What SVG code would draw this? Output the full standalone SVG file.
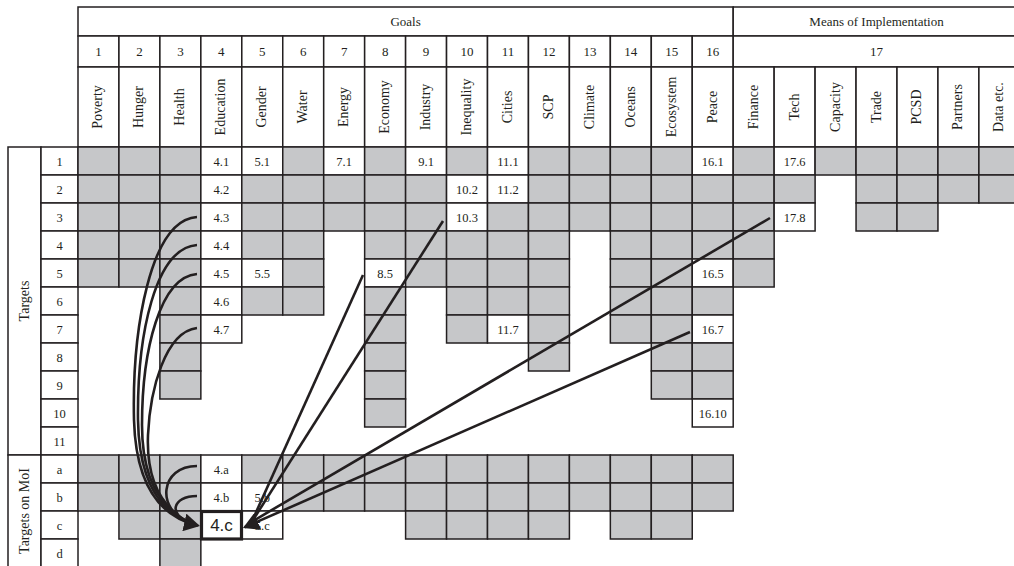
<svg xmlns="http://www.w3.org/2000/svg" width="1014" height="566" viewBox="0 0 1014 566">
<style>
.w{fill:#fff;stroke:#231f20;stroke-width:1.5}
.g{fill:#c6c7c9;stroke:#231f20;stroke-width:1.5}
text{font-family:"Liberation Serif","Times New Roman",serif;fill:#231f20;text-anchor:middle}
.h{font-size:13px}
.n{font-size:13px}
.v{font-size:14px}
.c{font-size:12.5px}
.con{fill:none;stroke:#231f20;stroke-width:2.6}
</style>
<defs>
<rect id="gc" width="40.95" height="28" class="g"/>
<rect id="wc" width="40.95" height="28" class="w"/>
<rect id="lc" width="37" height="28" class="w"/>
<marker id="ah" markerUnits="userSpaceOnUse" viewBox="0 0 16 18" markerWidth="16" markerHeight="18" refX="14" refY="9" orient="auto"><path d="M0,0 L16,9 L0,18 z" fill="#231f20"/></marker>
</defs>
<rect width="1014" height="566" fill="#fff"/>

<g id="header">
<rect x="78" y="7" width="655.2" height="29" class="w"/>
<text x="405.6" y="26" class="h">Goals</text>
<rect x="733.2" y="7" width="286.7" height="29" class="w"/>
<text x="876.5" y="26" class="h">Means of Implementation</text>
<g id="numbers">
<rect x="78" y="36" width="40.95" height="31" class="w"/><text x="98.48" y="56" class="n">1</text>
<rect x="118.95" y="36" width="40.95" height="31" class="w"/><text x="139.43" y="56" class="n">2</text>
<rect x="159.9" y="36" width="40.95" height="31" class="w"/><text x="180.38" y="56" class="n">3</text>
<rect x="200.85" y="36" width="40.95" height="31" class="w"/><text x="221.33" y="56" class="n">4</text>
<rect x="241.8" y="36" width="40.95" height="31" class="w"/><text x="262.28" y="56" class="n">5</text>
<rect x="282.75" y="36" width="40.95" height="31" class="w"/><text x="303.23" y="56" class="n">6</text>
<rect x="323.7" y="36" width="40.95" height="31" class="w"/><text x="344.18" y="56" class="n">7</text>
<rect x="364.65" y="36" width="40.95" height="31" class="w"/><text x="385.13" y="56" class="n">8</text>
<rect x="405.6" y="36" width="40.95" height="31" class="w"/><text x="426.08" y="56" class="n">9</text>
<rect x="446.55" y="36" width="40.95" height="31" class="w"/><text x="467.03" y="56" class="n">10</text>
<rect x="487.5" y="36" width="40.95" height="31" class="w"/><text x="507.98" y="56" class="n">11</text>
<rect x="528.45" y="36" width="40.95" height="31" class="w"/><text x="548.93" y="56" class="n">12</text>
<rect x="569.4" y="36" width="40.95" height="31" class="w"/><text x="589.88" y="56" class="n">13</text>
<rect x="610.35" y="36" width="40.95" height="31" class="w"/><text x="630.83" y="56" class="n">14</text>
<rect x="651.3" y="36" width="40.95" height="31" class="w"/><text x="671.78" y="56" class="n">15</text>
<rect x="692.25" y="36" width="40.95" height="31" class="w"/><text x="712.73" y="56" class="n">16</text>
<rect x="733.2" y="36" width="286.7" height="31" class="w"/><text x="876.5" y="56" class="n">17</text>
</g>
<g id="names">
<rect x="78" y="67" width="40.95" height="80" class="w"/><text transform="translate(98.48,107) rotate(-90)" y="4" class="v">Poverty</text>
<rect x="118.95" y="67" width="40.95" height="80" class="w"/><text transform="translate(139.43,107) rotate(-90)" y="4" class="v">Hunger</text>
<rect x="159.9" y="67" width="40.95" height="80" class="w"/><text transform="translate(180.38,107) rotate(-90)" y="4" class="v">Health</text>
<rect x="200.85" y="67" width="40.95" height="80" class="w"/><text transform="translate(221.33,107) rotate(-90)" y="4" class="v">Education</text>
<rect x="241.8" y="67" width="40.95" height="80" class="w"/><text transform="translate(262.28,107) rotate(-90)" y="4" class="v">Gender</text>
<rect x="282.75" y="67" width="40.95" height="80" class="w"/><text transform="translate(303.23,107) rotate(-90)" y="4" class="v">Water</text>
<rect x="323.7" y="67" width="40.95" height="80" class="w"/><text transform="translate(344.18,107) rotate(-90)" y="4" class="v">Energy</text>
<rect x="364.65" y="67" width="40.95" height="80" class="w"/><text transform="translate(385.13,107) rotate(-90)" y="4" class="v">Economy</text>
<rect x="405.6" y="67" width="40.95" height="80" class="w"/><text transform="translate(426.08,107) rotate(-90)" y="4" class="v">Industry</text>
<rect x="446.55" y="67" width="40.95" height="80" class="w"/><text transform="translate(467.03,107) rotate(-90)" y="4" class="v">Inequality</text>
<rect x="487.5" y="67" width="40.95" height="80" class="w"/><text transform="translate(507.98,107) rotate(-90)" y="4" class="v">Cities</text>
<rect x="528.45" y="67" width="40.95" height="80" class="w"/><text transform="translate(548.93,107) rotate(-90)" y="4" class="v">SCP</text>
<rect x="569.4" y="67" width="40.95" height="80" class="w"/><text transform="translate(589.88,107) rotate(-90)" y="4" class="v">Climate</text>
<rect x="610.35" y="67" width="40.95" height="80" class="w"/><text transform="translate(630.83,107) rotate(-90)" y="4" class="v">Oceans</text>
<rect x="651.3" y="67" width="40.95" height="80" class="w"/><text transform="translate(671.78,107) rotate(-90)" y="4" class="v">Ecosystem</text>
<rect x="692.25" y="67" width="40.95" height="80" class="w"/><text transform="translate(712.73,107) rotate(-90)" y="4" class="v">Peace</text>
<rect x="733.2" y="67" width="40.95" height="80" class="w"/><text transform="translate(753.68,107) rotate(-90)" y="4" class="v">Finance</text>
<rect x="774.15" y="67" width="40.95" height="80" class="w"/><text transform="translate(794.63,107) rotate(-90)" y="4" class="v">Tech</text>
<rect x="815.1" y="67" width="40.95" height="80" class="w"/><text transform="translate(835.58,107) rotate(-90)" y="4" class="v">Capacity</text>
<rect x="856.05" y="67" width="40.95" height="80" class="w"/><text transform="translate(876.53,107) rotate(-90)" y="4" class="v">Trade</text>
<rect x="897" y="67" width="40.95" height="80" class="w"/><text transform="translate(917.48,107) rotate(-90)" y="4" class="v">PCSD</text>
<rect x="937.95" y="67" width="40.95" height="80" class="w"/><text transform="translate(958.43,107) rotate(-90)" y="4" class="v">Partners</text>
<rect x="978.9" y="67" width="40.95" height="80" class="w"/><text transform="translate(999.38,107) rotate(-90)" y="4" class="v">Data etc.</text>
</g>
</g>

<g id="row-labels">
<rect x="8" y="147" width="33" height="308" class="w"/>
<text transform="translate(24.5,301) rotate(-90)" y="4" class="v">Targets</text>
<rect x="8" y="455" width="33" height="125" class="w"/>
<text transform="translate(24.5,511) rotate(-90)" y="4" class="v">Targets on MoI</text>
<use href="#lc" x="41" y="147"/><text x="59.5" y="165.5" class="c">1</text>
<use href="#lc" x="41" y="175"/><text x="59.5" y="193.5" class="c">2</text>
<use href="#lc" x="41" y="203"/><text x="59.5" y="221.5" class="c">3</text>
<use href="#lc" x="41" y="231"/><text x="59.5" y="249.5" class="c">4</text>
<use href="#lc" x="41" y="259"/><text x="59.5" y="277.5" class="c">5</text>
<use href="#lc" x="41" y="287"/><text x="59.5" y="305.5" class="c">6</text>
<use href="#lc" x="41" y="315"/><text x="59.5" y="333.5" class="c">7</text>
<use href="#lc" x="41" y="343"/><text x="59.5" y="361.5" class="c">8</text>
<use href="#lc" x="41" y="371"/><text x="59.5" y="389.5" class="c">9</text>
<use href="#lc" x="41" y="399"/><text x="59.5" y="417.5" class="c">10</text>
<use href="#lc" x="41" y="427"/><text x="59.5" y="445.5" class="c">11</text>
<use href="#lc" x="41" y="455"/><text x="59.5" y="473.5" class="c">a</text>
<use href="#lc" x="41" y="483"/><text x="59.5" y="501.5" class="c">b</text>
<use href="#lc" x="41" y="511"/><text x="59.5" y="529.5" class="c">c</text>
<use href="#lc" x="41" y="539"/><text x="59.5" y="557.5" class="c">d</text>
</g>

<g id="targets">
<!-- row 1 -->
<use href="#gc" x="78" y="147"/><use href="#gc" x="118.95" y="147"/><use href="#gc" x="159.9" y="147"/>
<use href="#wc" x="200.85" y="147"/><text x="221.33" y="165.5" class="c">4.1</text>
<use href="#wc" x="241.8" y="147"/><text x="262.28" y="165.5" class="c">5.1</text>
<use href="#gc" x="282.75" y="147"/>
<use href="#wc" x="323.7" y="147"/><text x="344.18" y="165.5" class="c">7.1</text>
<use href="#gc" x="364.65" y="147"/>
<use href="#wc" x="405.6" y="147"/><text x="426.08" y="165.5" class="c">9.1</text>
<use href="#gc" x="446.55" y="147"/>
<use href="#wc" x="487.5" y="147"/><text x="507.98" y="165.5" class="c">11.1</text>
<use href="#gc" x="528.45" y="147"/><use href="#gc" x="569.4" y="147"/><use href="#gc" x="610.35" y="147"/><use href="#gc" x="651.3" y="147"/>
<use href="#wc" x="692.25" y="147"/><text x="712.73" y="165.5" class="c">16.1</text>
<use href="#gc" x="733.2" y="147"/>
<use href="#wc" x="774.15" y="147"/><text x="794.63" y="165.5" class="c">17.6</text>
<use href="#gc" x="815.1" y="147"/><use href="#gc" x="856.05" y="147"/><use href="#gc" x="897" y="147"/><use href="#gc" x="937.95" y="147"/><use href="#gc" x="978.9" y="147"/>
<!-- row 2 -->
<use href="#gc" x="78" y="175"/><use href="#gc" x="118.95" y="175"/><use href="#gc" x="159.9" y="175"/>
<use href="#wc" x="200.85" y="175"/><text x="221.33" y="193.5" class="c">4.2</text>
<use href="#gc" x="241.8" y="175"/><use href="#gc" x="282.75" y="175"/><use href="#gc" x="323.7" y="175"/><use href="#gc" x="364.65" y="175"/><use href="#gc" x="405.6" y="175"/>
<use href="#wc" x="446.55" y="175"/><text x="467.03" y="193.5" class="c">10.2</text>
<use href="#wc" x="487.5" y="175"/><text x="507.98" y="193.5" class="c">11.2</text>
<use href="#gc" x="528.45" y="175"/><use href="#gc" x="569.4" y="175"/><use href="#gc" x="610.35" y="175"/><use href="#gc" x="651.3" y="175"/><use href="#gc" x="692.25" y="175"/>
<use href="#gc" x="733.2" y="175"/><use href="#gc" x="774.15" y="175"/>
<use href="#gc" x="856.05" y="175"/><use href="#gc" x="897" y="175"/><use href="#gc" x="937.95" y="175"/><use href="#gc" x="978.9" y="175"/>
<!-- row 3 -->
<use href="#gc" x="78" y="203"/><use href="#gc" x="118.95" y="203"/><use href="#gc" x="159.9" y="203"/>
<use href="#wc" x="200.85" y="203"/><text x="221.33" y="221.5" class="c">4.3</text>
<use href="#gc" x="241.8" y="203"/><use href="#gc" x="282.75" y="203"/><use href="#gc" x="323.7" y="203"/><use href="#gc" x="364.65" y="203"/><use href="#gc" x="405.6" y="203"/>
<use href="#wc" x="446.55" y="203"/><text x="467.03" y="221.5" class="c">10.3</text>
<use href="#gc" x="487.5" y="203"/><use href="#gc" x="528.45" y="203"/><use href="#gc" x="569.4" y="203"/><use href="#gc" x="610.35" y="203"/><use href="#gc" x="651.3" y="203"/><use href="#gc" x="692.25" y="203"/>
<use href="#gc" x="733.2" y="203"/>
<use href="#wc" x="774.15" y="203"/><text x="794.63" y="221.5" class="c">17.8</text>
<use href="#gc" x="856.05" y="203"/><use href="#gc" x="897" y="203"/>
<!-- row 4 -->
<use href="#gc" x="78" y="231"/><use href="#gc" x="118.95" y="231"/><use href="#gc" x="159.9" y="231"/>
<use href="#wc" x="200.85" y="231"/><text x="221.33" y="249.5" class="c">4.4</text>
<use href="#gc" x="241.8" y="231"/><use href="#gc" x="282.75" y="231"/>
<use href="#gc" x="364.65" y="231"/><use href="#gc" x="405.6" y="231"/><use href="#gc" x="446.55" y="231"/><use href="#gc" x="487.5" y="231"/><use href="#gc" x="528.45" y="231"/>
<use href="#gc" x="610.35" y="231"/><use href="#gc" x="651.3" y="231"/><use href="#gc" x="692.25" y="231"/><use href="#gc" x="733.2" y="231"/>
<!-- row 5 -->
<use href="#gc" x="78" y="259"/><use href="#gc" x="118.95" y="259"/><use href="#gc" x="159.9" y="259"/>
<use href="#wc" x="200.85" y="259"/><text x="221.33" y="277.5" class="c">4.5</text>
<use href="#wc" x="241.8" y="259"/><text x="262.28" y="277.5" class="c">5.5</text>
<use href="#gc" x="282.75" y="259"/>
<use href="#wc" x="364.65" y="259"/><text x="385.13" y="277.5" class="c">8.5</text>
<use href="#gc" x="405.6" y="259"/><use href="#gc" x="446.55" y="259"/><use href="#gc" x="487.5" y="259"/><use href="#gc" x="528.45" y="259"/>
<use href="#gc" x="610.35" y="259"/><use href="#gc" x="651.3" y="259"/>
<use href="#wc" x="692.25" y="259"/><text x="712.73" y="277.5" class="c">16.5</text>
<use href="#gc" x="733.2" y="259"/>
<!-- row 6 -->
<use href="#gc" x="159.9" y="287"/>
<use href="#wc" x="200.85" y="287"/><text x="221.33" y="305.5" class="c">4.6</text>
<use href="#gc" x="241.8" y="287"/><use href="#gc" x="282.75" y="287"/>
<use href="#gc" x="364.65" y="287"/><use href="#gc" x="446.55" y="287"/><use href="#gc" x="487.5" y="287"/><use href="#gc" x="528.45" y="287"/>
<use href="#gc" x="610.35" y="287"/><use href="#gc" x="651.3" y="287"/><use href="#gc" x="692.25" y="287"/>
<!-- row 7 -->
<use href="#gc" x="159.9" y="315"/>
<use href="#wc" x="200.85" y="315"/><text x="221.33" y="333.5" class="c">4.7</text>
<use href="#gc" x="364.65" y="315"/><use href="#gc" x="446.55" y="315"/>
<use href="#wc" x="487.5" y="315"/><text x="507.98" y="333.5" class="c">11.7</text>
<use href="#gc" x="528.45" y="315"/><use href="#gc" x="610.35" y="315"/><use href="#gc" x="651.3" y="315"/>
<use href="#wc" x="692.25" y="315"/><text x="712.73" y="333.5" class="c">16.7</text>
<!-- row 8 -->
<use href="#gc" x="159.9" y="343"/><use href="#gc" x="364.65" y="343"/><use href="#gc" x="528.45" y="343"/><use href="#gc" x="651.3" y="343"/><use href="#gc" x="692.25" y="343"/>
<!-- row 9 -->
<use href="#gc" x="159.9" y="371"/><use href="#gc" x="364.65" y="371"/><use href="#gc" x="651.3" y="371"/><use href="#gc" x="692.25" y="371"/>
<!-- row 10 -->
<use href="#gc" x="364.65" y="399"/>
<use href="#wc" x="692.25" y="399"/><text x="712.73" y="417.5" class="c">16.10</text>
</g>

<g id="moi-targets">
<!-- row a -->
<use href="#gc" x="78" y="455"/><use href="#gc" x="118.95" y="455"/><use href="#gc" x="159.9" y="455"/>
<use href="#wc" x="200.85" y="455"/><text x="221.33" y="473.5" class="c">4.a</text>
<use href="#gc" x="241.8" y="455"/><use href="#gc" x="282.75" y="455"/><use href="#gc" x="323.7" y="455"/><use href="#gc" x="364.65" y="455"/><use href="#gc" x="405.6" y="455"/><use href="#gc" x="446.55" y="455"/><use href="#gc" x="487.5" y="455"/><use href="#gc" x="528.45" y="455"/><use href="#gc" x="569.4" y="455"/><use href="#gc" x="610.35" y="455"/><use href="#gc" x="651.3" y="455"/><use href="#gc" x="692.25" y="455"/>
<!-- row b -->
<use href="#gc" x="78" y="483"/><use href="#gc" x="118.95" y="483"/><use href="#gc" x="159.9" y="483"/>
<use href="#wc" x="200.85" y="483"/><text x="221.33" y="501.5" class="c">4.b</text>
<use href="#wc" x="241.8" y="483"/><text x="262.28" y="501.5" class="c">5.b</text>
<use href="#gc" x="282.75" y="483"/><use href="#gc" x="323.7" y="483"/><use href="#gc" x="364.65" y="483"/><use href="#gc" x="405.6" y="483"/><use href="#gc" x="446.55" y="483"/><use href="#gc" x="487.5" y="483"/><use href="#gc" x="528.45" y="483"/><use href="#gc" x="569.4" y="483"/><use href="#gc" x="610.35" y="483"/><use href="#gc" x="651.3" y="483"/><use href="#gc" x="692.25" y="483"/>
<!-- row c -->
<use href="#gc" x="118.95" y="511"/><use href="#gc" x="159.9" y="511"/>
<use href="#wc" x="241.8" y="511"/><text x="262.28" y="529.5" class="c">5.c</text>
<use href="#gc" x="405.6" y="511"/><use href="#gc" x="446.55" y="511"/><use href="#gc" x="487.5" y="511"/><use href="#gc" x="528.45" y="511"/>
<use href="#gc" x="610.35" y="511"/><use href="#gc" x="651.3" y="511"/>
<!-- row d -->
<use href="#gc" x="159.9" y="539"/>
</g>

<g id="target-4c">
<rect x="201.5" y="511.5" width="40" height="27.5" fill="#fff" stroke="#231f20" stroke-width="3.2"/>
<text x="221.5" y="531" style="font-family:'Liberation Sans',Arial,sans-serif;font-size:17px">4.c</text>
</g>

<g id="connectors" class="con">
<path d="M197,217 C150,220 132,330 134,420 C136,492 165,518 198,525.5" marker-end="url(#ah)"/>
<path d="M197,245 C155,248 137,335 138,420 C139,485 162,512 190,523"/>
<path d="M197,274 C160,277 142,350 142,425 C142,483 163,510 190,523"/>
<path d="M197,328 C165,332 150,390 148,435 C146,485 165,510 190,523"/>
<path d="M197,466 C160,466 155,510 190,523"/>
<path d="M197,496 C172,496 168,515 190,523"/>
<path d="M363,275 L253,519"/>
<path d="M443,221 L253,520"/>
<path d="M770,218 L253,521"/>
<path d="M690,332 L244.8,527.2" marker-end="url(#ah)"/>
</g>
</svg>
